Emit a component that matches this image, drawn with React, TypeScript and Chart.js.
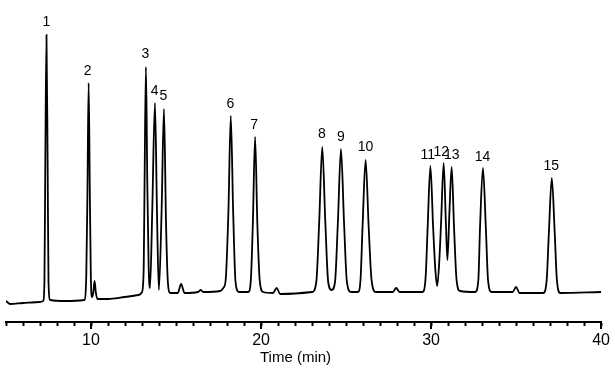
import React, { useEffect, useRef } from 'react';
import { Chart, registerables } from 'chart.js';

Chart.register(...registerables);

// Chromatogram trace: retention time (min) and detector signal (arbitrary units)
const times = [
  5.0, 5.25, 6.0, 7.0, 7.18, 7.26, 7.31, 7.38, 7.45, 7.5, 7.6, 8.5,
  9.6, 9.72, 9.79, 9.86, 9.93, 9.99, 10.06, 10.14, 10.21, 10.28, 10.38, 11.0, 12.0, 12.8,
  13.0, 13.1, 13.15, 13.23, 13.31, 13.39, 13.47, 13.6, 13.76, 13.88, 13.99,
  14.15, 14.29, 14.41, 14.52, 14.66, 15.1, 15.3, 15.5, 16.3, 16.45, 16.6, 17.6, 17.78,
  17.92, 18.08, 18.22, 18.36, 18.5, 18.7, 19.25, 19.4, 19.52, 19.65, 19.78, 19.92, 20.12,
  20.7, 20.92, 21.12, 23.0, 23.25, 23.42, 23.6, 23.78, 23.95, 24.15, 24.35, 24.52, 24.7,
  24.88, 25.05, 25.3, 25.7, 25.85, 25.97, 26.15, 26.33, 26.5, 26.75, 27.75, 27.95, 28.15,
  29.5, 29.68, 29.8, 29.96, 30.12, 30.26, 30.36, 30.48, 30.59, 30.74, 30.87, 30.96, 31.08,
  31.21, 31.35, 31.5, 31.7, 32.6, 32.78, 32.88, 33.05, 33.22, 33.35, 33.55, 34.8, 35.0,
  35.2, 36.6, 36.8, 36.93, 37.1, 37.27, 37.4, 37.6, 40.0,
];
const signal = [
  21, 18, 19, 20, 21, 40, 155, 287, 155, 40, 22, 21,
  22, 45, 130, 239, 130, 45, 25, 30, 41, 30, 23, 23, 25, 27,
  30, 55, 140, 255, 140, 55, 34, 110, 219, 110, 32,
  110, 213, 100, 40, 29, 29, 38, 29, 30, 32, 30, 31, 34,
  42, 110, 206, 110, 40, 30, 30, 42, 100, 185, 100, 42, 30,
  29, 34, 28, 30, 40, 100, 175, 100, 40, 32, 40, 100, 173,
  100, 40, 30, 30, 42, 95, 162, 95, 42, 30, 30, 34, 30,
  30, 45, 95, 156, 95, 50, 36, 60, 100, 159, 100, 62, 110,
  155, 95, 42, 31, 30, 42, 95, 154, 95, 42, 30, 30, 35,
  29, 29, 42, 90, 144, 90, 42, 29, 30,
];

// Peak annotations
const peakLabels = ['1', '2', '3', '4', '5', '6', '7', '8', '9', '10', '11', '12', '13', '14', '15'];
const labelTimes = [7.38, 9.8, 13.2, 13.74, 14.26, 18.2, 19.6, 23.58, 24.7, 26.15, 29.8, 30.6, 31.22, 33.03, 37.07];
const labelValues = [299.5, 251, 267.7, 230.7, 226, 218, 197, 188, 185, 175, 167, 170, 167, 165, 156];

// Axis
const xMin = 5;
const xMax = 40;
const majorTicks = [10, 20, 30, 40];
const xTitle = 'Time (min)';

const FONT = '"Liberation Sans", Arial, Helvetica, sans-serif';

const peakLabelPlugin = {
  id: 'peakLabels',
  afterDatasetsDraw(chart: any) {
    const { ctx, scales } = chart;
    const x = scales.x;
    const y = scales.y;
    ctx.save();
    ctx.font = `14px ${FONT}`;
    ctx.fillStyle = '#000';
    ctx.textAlign = 'center';
    ctx.textBaseline = 'middle';
    peakLabels.forEach((l, i) => {
      ctx.fillText(l, x.getPixelForValue(labelTimes[i]), y.getPixelForValue(labelValues[i]));
    });
    ctx.restore();
  },
};

const axisExtrasPlugin = {
  id: 'axisExtras',
  afterDraw(chart: any) {
    const { ctx, scales, chartArea } = chart;
    const x = scales.x;
    ctx.save();
    ctx.strokeStyle = '#000';
    ctx.lineWidth = 2;
    majorTicks.forEach((v) => {
      const px = Math.round(x.getPixelForValue(v));
      ctx.beginPath();
      ctx.moveTo(px, x.top);
      ctx.lineTo(px, x.top + 7);
      ctx.stroke();
    });
    // axis title
    ctx.font = `15px ${FONT}`;
    ctx.fillStyle = '#000';
    ctx.textAlign = 'center';
    ctx.textBaseline = 'middle';
    ctx.fillText(xTitle, (chartArea.left + chartArea.right) / 2 - 8, chartArea.bottom + 36);
    ctx.restore();
  },
};

export default function App() {
  const ref = useRef<HTMLCanvasElement | null>(null);

  useEffect(() => {
    if (!ref.current) return;
    const chart = new Chart(ref.current, {
      type: 'line',
      data: {
        datasets: [
          {
            data: times.map((t, i) => ({ x: t, y: signal[i] })),
            borderColor: '#000',
            borderWidth: 1.8,
            pointRadius: 0,
            fill: false,
            cubicInterpolationMode: 'monotone',
          },
        ],
      },
      options: {
        responsive: false,
        animation: false,
        events: [],
        layout: { padding: { left: 6, right: 13, top: 10, bottom: 0 } },
        plugins: { legend: { display: false }, tooltip: { enabled: false } },
        scales: {
          x: {
            type: 'linear',
            min: xMin,
            max: xMax,
            afterFit: (scale: any) => {
              scale.height = 51;
            },
            border: { display: true, color: '#000', width: 2 },
            grid: {
              drawOnChartArea: false,
              drawTicks: true,
              tickLength: 4,
              tickWidth: 2,
              tickColor: '#000',
            },
            ticks: {
              stepSize: 1,
              autoSkip: false,
              maxRotation: 0,
              color: '#000',
              padding: 5,
              font: { family: FONT, size: 16 },
              callback: (v: any) => (majorTicks.includes(Number(v)) ? String(v) : ''),
            },
            title: { display: false },
          },
          y: {
            display: false,
            min: 0,
            max: 312,
          },
        },
      },
      plugins: [peakLabelPlugin, axisExtrasPlugin],
    });
    return () => chart.destroy();
  }, []);

  return (
    <div style={{ position: 'fixed', left: 0, top: 0, width: 615, height: 373, background: '#fff' }}>
      <canvas ref={ref} width={615} height={373} style={{ display: 'block' }} />
    </div>
  );
}
